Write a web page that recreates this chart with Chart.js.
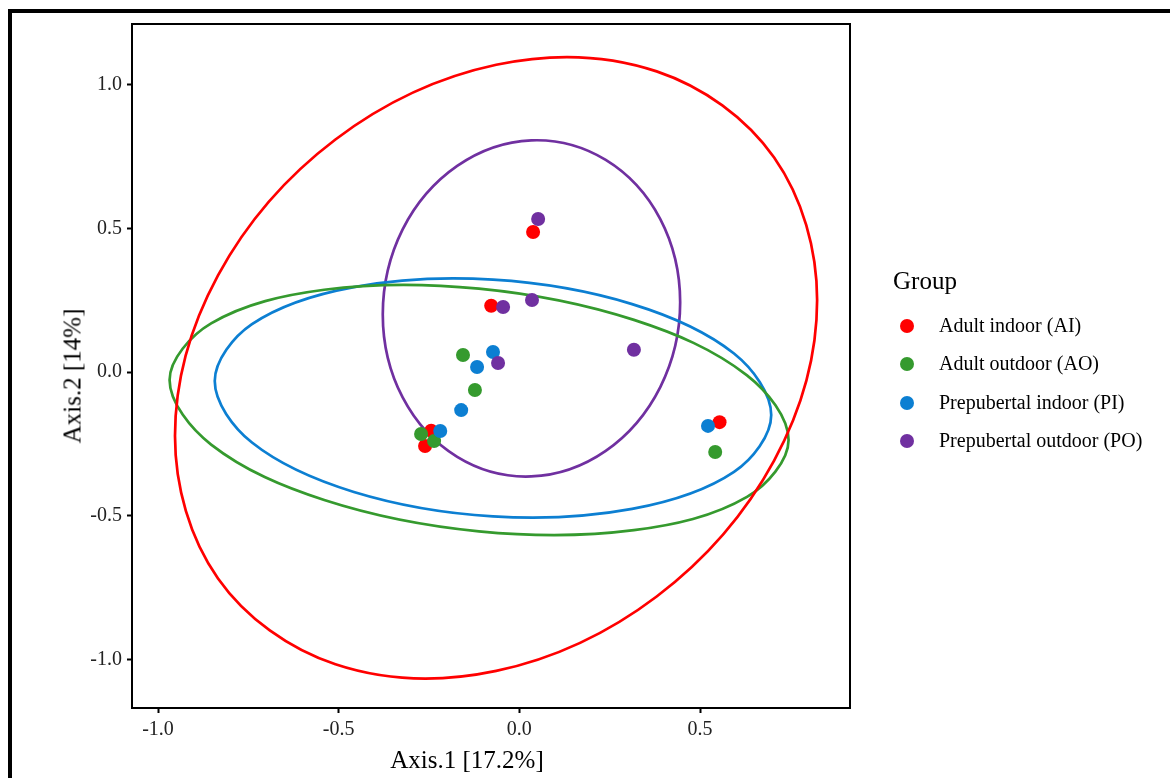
<!DOCTYPE html>
<html>
<head>
<meta charset="utf-8">
<script src="https://cdn.jsdelivr.net/npm/chart.js@4.4.1/dist/chart.umd.min.js"></script>
<style>
  body { margin: 0; background: #fff; }
  #wrap { position: relative; width: 1170px; height: 778px; overflow: hidden; font-family: 'Liberation Serif', 'Times New Roman', serif; color: #000; }
  #frame { position: absolute; left: 8px; top: 9px; width: 1300px; height: 900px; border-top: 4px solid #000; border-left: 4px solid #000; }
  canvas { position: absolute; left: 0; top: 0; }
  .title { position: absolute; font-size: 25px; line-height: 25px; white-space: nowrap; }
  #legend { position: absolute; left: 0; top: 0; }
  .leg-row { position: absolute; left: 939px; font-size: 20px; line-height: 20px; white-space: nowrap; }
  .leg-dot { position: absolute; width: 14px; height: 14px; border-radius: 50%; }
</style>
</head>
<body>
<div id="wrap">
  <div id="frame"></div>
  <canvas id="pcoa" width="1170" height="778"></canvas>
  <div class="title" id="xTitle" style="left:467px; top:747px; transform:translateX(-50%);">Axis.1 [17.2%]</div>
  <div class="title" id="yTitle" style="left:72px; top:376px; transform:translate(-50%,-50%) rotate(-90deg);">Axis.2 [14%]</div>
  <div id="legend">
    <div class="title" style="left:893px; top:268px;">Group</div>
  </div>
</div>
<script>
// tick labels
const xTicks = [-1.0, -0.5, 0.0, 0.5];
const yTicks = [-1.0, -0.5, 0.0, 0.5, 1.0];

// groups
const groupNames = ['Adult indoor (AI)', 'Adult outdoor (AO)', 'Prepubertal indoor (PI)', 'Prepubertal outdoor (PO)'];
const groupColors = ['#ff0000', '#359a2e', '#0c7fd2', '#7030a0'];

// sample coordinates [Axis.1, Axis.2]
const aiPoints = [[0.038, 0.488], [-0.078, 0.231], [-0.244, -0.204], [-0.261, -0.257], [0.554, -0.174]];
const aoPoints = [[-0.156, 0.060], [-0.123, -0.062], [-0.272, -0.215], [-0.236, -0.240], [0.542, -0.278]];
const piPoints = [[-0.073, 0.070], [-0.117, 0.018], [-0.161, -0.132], [-0.219, -0.205], [0.522, -0.187]];
const poPoints = [[0.052, 0.533], [-0.045, 0.227], [0.035, 0.251], [-0.059, 0.032], [0.317, 0.078]];

// ellipse outlines (12 points around each)
const aiEllipse = [[0.824, 0.251], [0.705, -0.308], [0.380, -0.781], [-0.064, -1.040], [-0.509, -1.017], [-0.834, -0.718],
  [-0.953, -0.222], [-0.834, 0.337], [-0.509, 0.810], [-0.064, 1.070], [0.380, 1.047], [0.705, 0.747]];
const aoEllipse = [[0.745, -0.236], [0.630, -0.434], [0.317, -0.550], [-0.112, -0.554], [-0.540, -0.445], [-0.853, -0.252],
  [-0.968, -0.027], [-0.853, 0.170], [-0.540, 0.287], [-0.112, 0.291], [0.317, 0.182], [0.630, -0.011]];
const piEllipse = [[0.697, -0.149], [0.594, -0.347], [0.312, -0.476], [-0.073, -0.502], [-0.458, -0.417], [-0.740, -0.245],
  [-0.843, -0.031], [-0.740, 0.167], [-0.458, 0.296], [-0.073, 0.322], [0.312, 0.237], [0.594, 0.065]];
const poEllipse = [[0.445, 0.243], [0.390, -0.052], [0.239, -0.274], [0.033, -0.363], [-0.172, -0.295], [-0.323, -0.088],
  [-0.378, 0.201], [-0.323, 0.497], [-0.172, 0.718], [0.033, 0.807], [0.239, 0.739], [0.390, 0.533]];

const groupPoints = [aiPoints, aoPoints, piPoints, poPoints];
const groupEllipses = [aiEllipse, aoEllipse, piEllipse, poEllipse];

const toXY = arr => arr.map(p => ({ x: p[0], y: p[1] }));
// wrap the outline so every visible piece gets proper neighbours on both sides
const wrapped = arr => toXY([arr[arr.length - 1]].concat(arr, [arr[0], arr[1]]));

const datasets = [];
groupNames.forEach((name, i) => {
  datasets.push({
    label: name,
    data: toXY(groupPoints[i]),
    backgroundColor: groupColors[i],
    borderWidth: 0,
    pointRadius: 7,
    showLine: false,
    order: 1 + (groupNames.length - i) * 0.1 // later groups sit on top
  });
});
groupNames.forEach((name, i) => {
  const last = groupEllipses[i].length + 1;
  datasets.push({
    label: name + ' ellipse',
    data: wrapped(groupEllipses[i]),
    borderColor: groupColors[i],
    borderWidth: 2.7,
    pointRadius: 0,
    showLine: true,
    tension: 0.35,
    fill: false,
    order: 2,
    segment: {
      borderColor: ctx => (ctx.p0DataIndex === 0 || ctx.p0DataIndex === last) ? 'rgba(0,0,0,0)' : groupColors[i]
    }
  });
});

const tickFont = { family: "'Liberation Serif', 'Times New Roman', serif", size: 20 };

const panelBorder = {
  id: 'panelBorder',
  afterDraw(chart) {
    const { ctx, chartArea: a } = chart;
    ctx.save();
    ctx.strokeStyle = '#000';
    ctx.lineWidth = 2;
    ctx.strokeRect(a.left, a.top, a.right - a.left, a.bottom - a.top);
    ctx.restore();
  }
};

new Chart(document.getElementById('pcoa'), {
  type: 'scatter',
  data: { datasets },
  options: {
    responsive: false,
    animation: false,
    devicePixelRatio: 1,
    layout: { padding: { left: 0, top: 24, right: 320, bottom: 0 } },
    plugins: { legend: { display: false }, tooltip: { enabled: false } },
    scales: {
      x: {
        type: 'linear',
        min: -1.072,
        max: 0.915,
        afterBuildTicks: s => { s.ticks = xTicks.map(v => ({ value: v })); },
        afterFit: s => { s.height = 70; },
        ticks: { callback: v => v.toFixed(1), font: tickFont, color: '#222', padding: 5, maxRotation: 0 },
        grid: { drawOnChartArea: false, drawTicks: true, tickLength: 5, tickWidth: 2, color: '#000' },
        border: { display: true, color: '#000', width: 2 }
      },
      y: {
        type: 'linear',
        min: -1.169,
        max: 1.212,
        afterBuildTicks: s => { s.ticks = yTicks.map(v => ({ value: v })); },
        afterFit: s => { s.width = 132; },
        ticks: { callback: v => v.toFixed(1), font: tickFont, color: '#222', padding: 5 },
        grid: { drawOnChartArea: false, drawTicks: true, tickLength: 5, tickWidth: 2, color: '#000' },
        border: { display: true, color: '#000', width: 2 }
      }
    }
  },
  plugins: [panelBorder]
});

// legend
const legend = document.getElementById('legend');
groupNames.forEach((name, i) => {
  const top = 315 + i * 38.3;
  const row = document.createElement('div');
  row.className = 'leg-row';
  row.style.top = top + 'px';
  row.textContent = name;
  legend.appendChild(row);
  const dot = document.createElement('span');
  dot.className = 'leg-dot';
  dot.style.left = '900px';
  dot.style.top = (top + 4) + 'px';
  dot.style.background = groupColors[i];
  legend.appendChild(dot);
});
</script>
</body>
</html>
